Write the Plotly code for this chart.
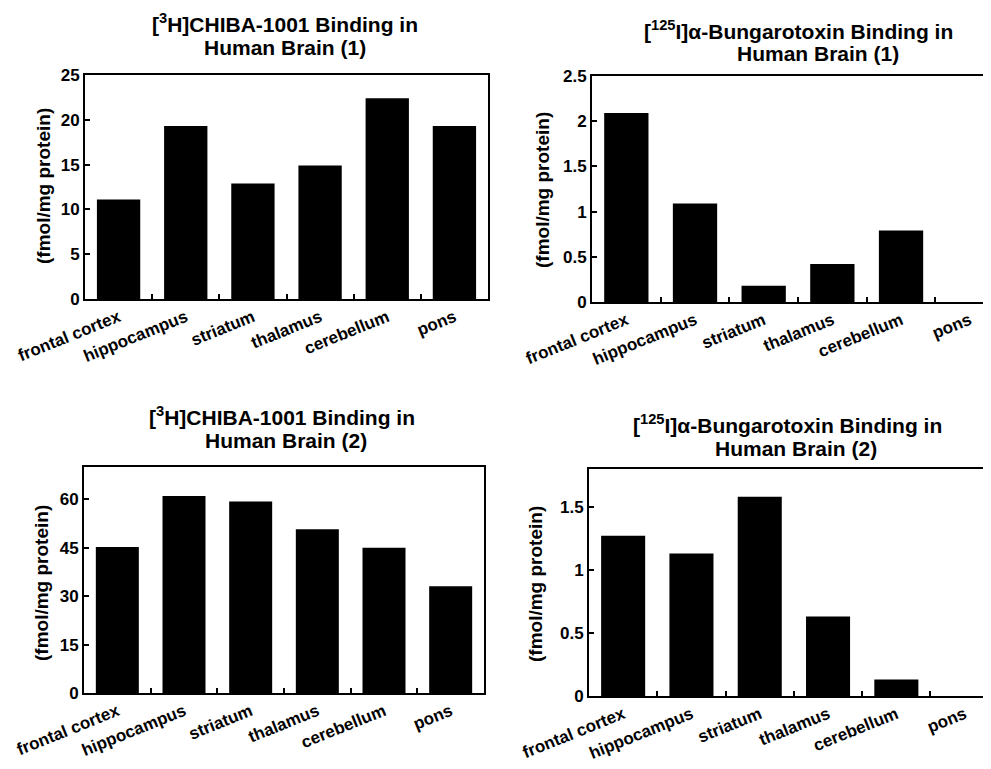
import plotly.graph_objects as go

regions = ["frontal cortex", "hippocampus", "striatum", "thalamus", "cerebellum", "pons"]

chiba_1 = [11.1, 19.3, 12.9, 14.9, 22.4, 19.3]
bgt_1 = [2.09, 1.09, 0.18, 0.42, 0.79, 0.0]
chiba_2 = [45.2, 61.0, 59.3, 50.7, 45.0, 33.1]
bgt_2 = [1.27, 1.13, 1.58, 0.63, 0.13, 0.0]

title_lines = [
    ["[<sup>3</sup>H]CHIBA-1001 Binding in", "Human Brain (1)"],
    ["[<sup>125</sup>I]α-Bungarotoxin Binding in", "Human Brain (1)"],
    ["[<sup>3</sup>H]CHIBA-1001 Binding in", "Human Brain (2)"],
    ["[<sup>125</sup>I]α-Bungarotoxin Binding in", "Human Brain (2)"],
]
y_title = "(fmol/mg protein)"

y_ticks = [
    [0, 5, 10, 15, 20, 25],
    [0, 0.5, 1, 1.5, 2, 2.5],
    [0, 15, 30, 45, 60],
    [0, 0.5, 1, 1.5],
]
y_ticktext = [
    ["0", "5", "10", "15", "20", "25"],
    ["0", "0.5", "1", "1.5", "2", "2.5"],
    ["0", "15", "30", "45", "60"],
    ["0", "0.5", "1", "1.5"],
]
y_ranges = [[0, 25], [0, 2.5], [0, 70], [0, 1.8]]

# page body has an 8px margin; figure coordinates = reference pixels - 8
OFF = 8
W, H = 991 - OFF, 769 - OFF
# reference pixel boxes: left, right, top, bottom
boxes = [
    (85, 488, 75, 299),
    (592, 991, 76, 302),
    (84, 484, 467, 693),
    (589, 991, 469, 696),
]
x_ranges = [[-0.5, 5.5], [-0.5, 5.31], [-0.5, 5.5], [-0.5, 5.386]]
mirror_y = [True, False, True, False]

FONT = "Liberation Sans, Arial, sans-serif"
fig = go.Figure()
data_sets = [chiba_1, bgt_1, chiba_2, bgt_2]
for i, vals in enumerate(data_sets):
    n = "" if i == 0 else str(i + 1)
    fig.add_trace(go.Bar(x=regions, y=vals, marker=dict(color="black", line=dict(width=0)),
                         width=0.645, xaxis="x" + n, yaxis="y" + n, showlegend=False))
    l, r, t, b = [v - OFF for v in boxes[i]]
    fig.layout["xaxis" + n] = dict(
        domain=[l / W, min(r / W, 1.0)], anchor="y" + n, type="category", automargin=False,
        categoryorder="array", categoryarray=regions, range=x_ranges[i],
        showline=True, linecolor="black", linewidth=2, mirror=True,
        ticks="inside", tickson="boundaries", ticklen=5, tickwidth=2, tickcolor="black",
        tickangle=-22, showgrid=False, zeroline=False,
        tickfont=dict(family=FONT, size=17, color="black", weight="bold"),
    )
    fig.layout["yaxis" + n] = dict(
        domain=[(H - b) / H, (H - t) / H], anchor="x" + n, range=y_ranges[i], automargin=False,
        tickvals=y_ticks[i], ticktext=y_ticktext[i],
        showline=True, linecolor="black", linewidth=2, mirror=mirror_y[i],
        ticks="inside", ticklen=5, tickwidth=2, tickcolor="black",
        showgrid=False, zeroline=False,
        tickfont=dict(family=FONT, size=17, color="black", weight="bold"),
    )

# reference pixel centres of each title line
title_pos = [
    [(285, 23), (285, 47)],
    [(798, 30), (818, 54)],
    [(282, 416), (286, 440)],
    [(787, 424), (796, 448)],
]
ytitle_pos = [(43, 186), (543, 190), (41, 583), (535, 584)]
ann = []
for i in range(4):
    for j in range(2):
        cx, cy = title_pos[i][j]
        ann.append(dict(text=title_lines[i][j], x=(cx - OFF) / W, y=(H - (cy - OFF)) / H,
                        xref="paper", yref="paper", xanchor="center", yanchor="middle",
                        showarrow=False, align="center",
                        font=dict(family=FONT, size=21, color="black", weight="bold")))
    tx, ty = ytitle_pos[i]
    ann.append(dict(text=y_title, x=(tx - OFF) / W, y=(H - (ty - OFF)) / H, xref="paper", yref="paper",
                    xanchor="center", yanchor="middle", showarrow=False, textangle=-90,
                    font=dict(family=FONT, size=19, color="black", weight="bold")))

fig.update_layout(
    width=W, height=H, margin=dict(l=0, r=0, t=0, b=0),
    paper_bgcolor="white", plot_bgcolor="white",
    annotations=ann, bargap=0.36,
)
fig.write_html("out.html")
